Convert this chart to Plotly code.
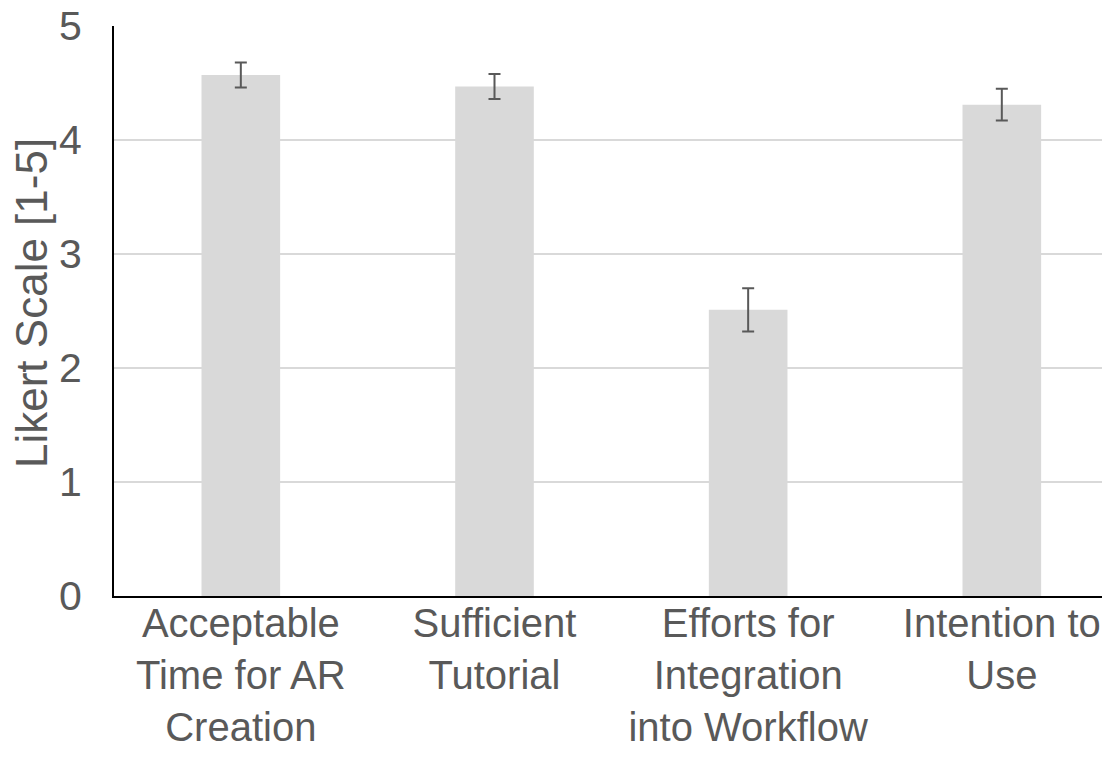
import plotly.graph_objects as go

categories = ["Acceptable<br>Time for AR<br>Creation", "Sufficient<br>Tutorial",
              "Efforts for<br>Integration<br>into Workflow", "Intention to<br>Use"]
means = [4.57, 4.47, 2.51, 4.31]
errors = [0.11, 0.11, 0.19, 0.14]
y_ticks = [0, 1, 2, 3, 4, 5]
y_title = "Likert Scale [1-5]"

FONT = "Liberation Sans, Arial, sans-serif"
TXT = "#595959"

fig = go.Figure()
fig.add_trace(go.Bar(
    x=list(range(len(categories))), y=means,
    width=0.31,
    marker=dict(color="#d9d9d9", line=dict(width=0)),
    error_y=dict(type="data", array=errors, visible=True,
                 color="#595959", thickness=2, width=6),
))

fig.update_layout(
    width=1110, height=778,
    margin=dict(l=106, r=0, t=18, b=190),
    paper_bgcolor="white", plot_bgcolor="white",
    showlegend=False,
    font=dict(family=FONT, size=40, color=TXT),
    xaxis=dict(
        range=[-0.5, 3.458], automargin=False,
        tickmode="array", tickvals=list(range(len(categories))), ticktext=categories,
        showgrid=False, zeroline=False,
        showline=True, linecolor="black", linewidth=2,
        ticks="", ticklabelstandoff=-9, ticklabeloverflow="allow",
        tickfont=dict(family=FONT, size=40, color=TXT),
    ),
    yaxis=dict(
        range=[0, 5], automargin=False,
        tickmode="array", tickvals=y_ticks,
        showgrid=True, gridcolor="#d9d9d9", gridwidth=1.5,
        zeroline=False,
        showline=True, linecolor="black", linewidth=2,
        ticks="", ticklabelstandoff=22, ticklabeloverflow="allow",
        tickfont=dict(family=FONT, size=41, color=TXT),
    ),
    annotations=[dict(
        text=y_title, textangle=-90, showarrow=False,
        xref="paper", yref="paper", x=0, y=0.5,
        xanchor="center", yanchor="middle", xshift=-83, yshift=8,
        font=dict(family=FONT, size=44, color=TXT),
    )],
)

fig.write_html("out.html")
